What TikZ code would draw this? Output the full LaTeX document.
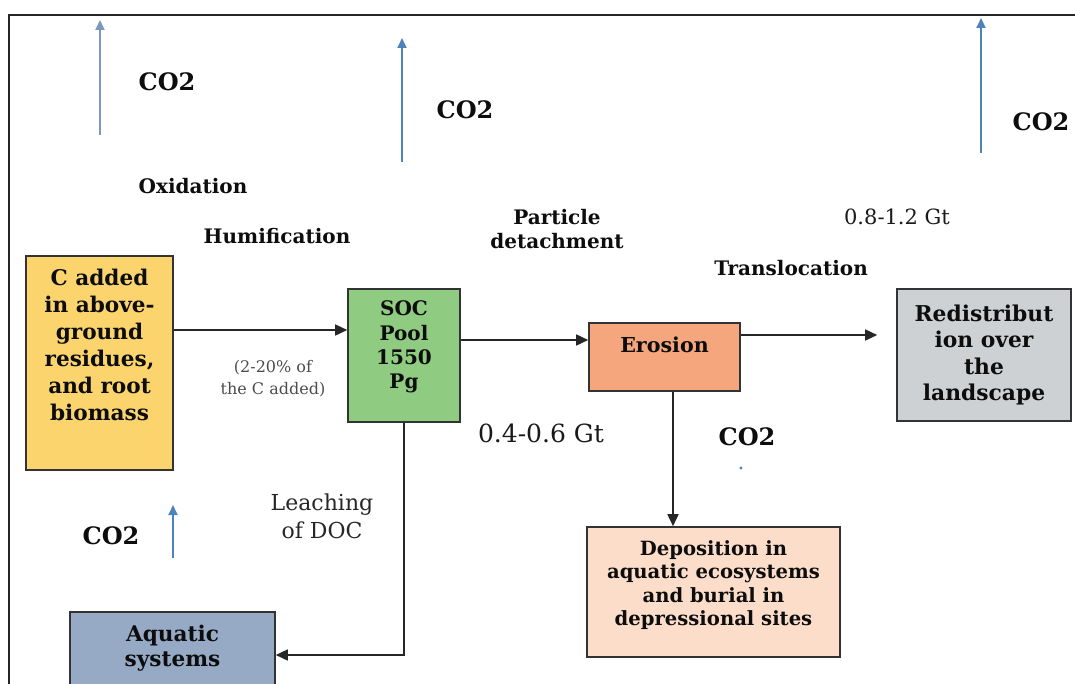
\documentclass[tikz,border=0pt]{standalone}
\usepackage{fontspec}
\setmainfont{DejaVu Serif}
\usetikzlibrary{arrows.meta}

\definecolor{cadyellow}{HTML}{FBD46E}
\definecolor{socgreen}{HTML}{8FCB80}
\definecolor{erosalmon}{HTML}{F5A67C}
\definecolor{redisgray}{HTML}{CDD1D4}
\definecolor{depospeach}{HTML}{FBDDCA}
\definecolor{aquablue}{HTML}{96AAC6}
\definecolor{riseblue}{HTML}{4F81BD}
\definecolor{riselight}{HTML}{7C98BD}

\tikzset{
  box/.style={draw=black!80, line width=0.8pt, inner sep=0pt},
  boxtxt/.style={font=\bfseries\fontsize{10.3}{13}\selectfont, align=center, text=black!95},
  lbl/.style={font=\bfseries\fontsize{10}{12}\selectfont, align=center, text=black!95},
  colbl/.style={font=\bfseries\fontsize{12}{13}\selectfont, text=black!95},
  flow/.style={-{Triangle[length=6pt,width=5.5pt]}, line width=0.8pt, black!85},
  rise/.style={-{Triangle[length=5pt,width=4.5pt]}, line width=1pt, riseblue},
}

\begin{document}
\begin{tikzpicture}[x=0.5pt,y=-0.5pt]
    \clip (0,0) rectangle (1075,684);
    % Marco
    \draw[line width=1pt, black!85] (9,700) -- (9,15) -- (1080,15);

    % Cajas
    \node[box, fill=cadyellow, minimum width=73.5pt, minimum height=107pt] (cadded) at (99.5,363) {};
    \node[boxtxt, font=\bfseries\fontsize{10.8}{13.5}\selectfont] (caddedtxt) at (99.5,345) {C added\\in above-\\ground\\residues,\\and root\\biomass};
    \node[box, fill=socgreen, minimum width=56pt, minimum height=66.5pt] (soc) at (404,355.5) {};
    \node[boxtxt, font=\bfseries\fontsize{10}{12.2}\selectfont] (soctxt) at (404,347) {SOC\\Pool\\1550\\Pg};
    \node[box, fill=erosalmon, minimum width=75.5pt, minimum height=34pt] (erosion) at (664.5,357) {};
    \node[boxtxt] (erosiontxt) at (664.5,345) {Erosion};
    \node[box, fill=redisgray, minimum width=87pt, minimum height=66pt] (redis) at (984,355) {};
    \node[boxtxt, font=\bfseries\fontsize{10.9}{13.3}\selectfont] (redistxt) at (984,355) {Redistribut\\ion over\\the\\landscape};
    \node[box, fill=depospeach, minimum width=126.5pt, minimum height=65pt] (depos) at (713.5,592) {};
    \node[boxtxt, font=\bfseries\fontsize{9.8}{11.7}\selectfont] (depostxt) at (713.5,585) {Deposition in\\aquatic ecosystems\\and burial in\\depressional sites};
    \node[box, fill=aquablue, minimum width=102.5pt, minimum height=54pt] (aquatic) at (172.5,666) {};
    \node[boxtxt, font=\bfseries\fontsize{10.8}{12.5}\selectfont] (aquatictxt) at (172.5,648) {Aquatic\\systems};

    % Flujos
    \draw[flow] (cadded.east |- 0,330) -- (soc.west |- 0,330);
    \draw[flow] (soc.east |- 0,340) -- (erosion.west |- 0,340);
    \draw[flow, shorten >=9.5pt] (erosion.east |- 0,335) -- (redis.west |- 0,335);
    \draw[flow] (erosion.south -| 673,0) -- (depos.north -| 673,0);
    \draw[flow] (soc.south) |- (aquatic.east |- 0,655);

    % Salidas de CO2
    \draw[rise, riselight] (100,135) -- (100,20);
    \foreach \x/\ya/\yb in {402/162/38, 981/153/18, 173/558/505}
        \draw[rise] (\x,\ya) -- (\x,\yb);
    \node[colbl] (co2a) at (167,82) {CO2};
    \node[colbl] (co2b) at (465,110) {CO2};
    \node[colbl] (co2c) at (1041,122) {CO2};
    \node[colbl] (co2d) at (747,437) {CO2};
    \node[colbl] (co2e) at (111,536) {CO2};
    \fill[riseblue] (741,468) circle (0.8pt);

    % Etiquetas
    \node[lbl] (oxid) at (193,186) {Oxidation};
    \node[lbl] (humif) at (277,236) {Humification};
    \node[lbl] (partic) at (557,229) {Particle\\detachment};
    \node[lbl] (transl) at (791,268) {Translocation};
    \node[font=\fontsize{10.5}{12}\selectfont, text=black!90] (gtb) at (897,217) {0.8-1.2 Gt};
    \node[font=\fontsize{12.5}{13}\selectfont, text=black!90] (gta) at (541,433) {0.4-0.6 Gt};
    \node[font=\fontsize{8}{11}\selectfont, text=black!70, align=center] (pct) at (273,379) {(2-20\% of\\the C added)};
    \node[font=\fontsize{11}{14}\selectfont, text=black!85, align=center] (leach) at (322,516) {Leaching\\of DOC};
\end{tikzpicture}
\end{document}
